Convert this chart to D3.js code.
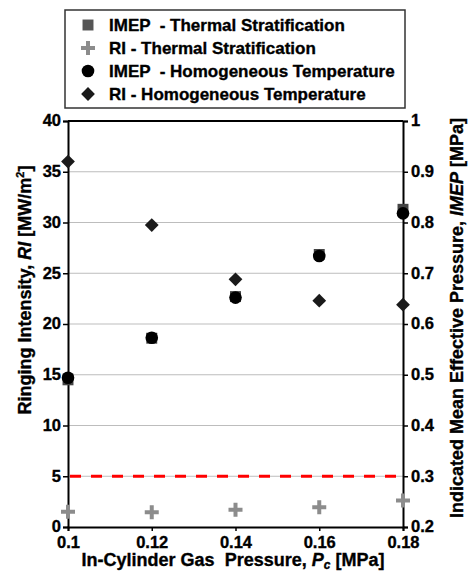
<!DOCTYPE html>
<html>
<head>
<meta charset="utf-8">
<script src="https://cdn.jsdelivr.net/npm/d3@7"></script>
<style>
  body { margin: 0; background: #fff; }
  svg text { font-family: "Liberation Sans", Arial, sans-serif !important; font-weight: 700 !important;
             fill: #000; stroke: #000; stroke-width: 0.35px; }
</style>
</head>
<body>
<div id="chart"></div>
<script>
// data
const pressure = [0.1, 0.12, 0.14, 0.16, 0.18];          // MPa
const imepThermal = [0.49, 0.572, 0.654, 0.737, 0.826];   // MPa
const riThermal = [1.5, 1.45, 1.7, 1.95, 2.6];            // MW/m2
const imepHomog = [0.494, 0.573, 0.652, 0.734, 0.818];    // MPa
const riHomog = [36.0, 29.75, 24.4, 22.3, 21.9];          // MW/m2
const riLimit = 5;

const xTicks = [0.1, 0.12, 0.14, 0.16, 0.18];
const riTicks = [0, 5, 10, 15, 20, 25, 30, 35, 40];
const imepTicks = [0.2, 0.3, 0.4, 0.5, 0.6, 0.7, 0.8, 0.9, 1];

const legendLabels = [
  "IMEP  - Thermal Stratification",
  "RI - Thermal Stratification",
  "IMEP  - Homogeneous Temperature",
  "RI - Homogeneous Temperature"
];

var cfg = {
  width: 470,
  height: 573,
  margin: {top: 121, right: 67, bottom: 46, left: 68}
};

var scale = {
  x: d3.scaleLinear().domain([0.1, 0.18])
      .range([cfg.margin.left, cfg.width - cfg.margin.right]),
  ri: d3.scaleLinear().domain([0, 40])
      .range([cfg.height - cfg.margin.bottom, cfg.margin.top]),
  imep: d3.scaleLinear().domain([0.2, 1])
      .range([cfg.height - cfg.margin.bottom, cfg.margin.top])
};

const svg = d3.select("#chart").append("svg")
  .attr("width", cfg.width)
  .attr("height", cfg.height);

const x0 = cfg.margin.left, x1 = cfg.width - cfg.margin.right;
const y0 = cfg.height - cfg.margin.bottom, y1 = cfg.margin.top;

// grid lines
svg.append("g").selectAll("line")
  .data(riTicks.filter(d => d > 0 && d < 40))
  .enter().append("line")
  .attr("x1", x0).attr("x2", x1)
  .attr("y1", d => scale.ri(d)).attr("y2", d => scale.ri(d))
  .style("stroke", "#bdbdbd").style("stroke-width", 1);

// red limit line
svg.append("line")
  .attr("x1", x0 + 2).attr("x2", x1)
  .attr("y1", scale.ri(riLimit)).attr("y2", scale.ri(riLimit))
  .style("stroke", "#ff0000").style("stroke-width", 3)
  .style("stroke-dasharray", "11,10");

// top border
svg.append("line")
  .attr("x1", x0).attr("x2", x1).attr("y1", y1).attr("y2", y1)
  .style("stroke", "#000").style("stroke-width", 2);

function styleAxis(g){
  g.attr("font-family", null);
  g.select(".domain").style("stroke", "#000").style("stroke-width", 2);
  g.selectAll(".tick line").style("stroke", "#000").style("stroke-width", 1.5);
  g.selectAll("text").style("font-size", "16.5px");
}

// x axis
svg.append("g")
  .attr("transform", `translate(0,${y0})`)
  .call(d3.axisBottom(scale.x).tickValues(xTicks).tickSizeOuter(0).tickSize(4).tickFormat(d3.format("~g")))
  .call(styleAxis)
  .selectAll("text").attr("y", 9).attr("dy", "0.72em");

// left axis
svg.append("g")
  .attr("transform", `translate(${x0},0)`)
  .call(d3.axisLeft(scale.ri).tickValues(riTicks).tickSizeOuter(0).tickSize(5))
  .call(styleAxis)
  .selectAll("text").attr("x", -7).attr("dy", "0.3em");

// right axis
svg.append("g")
  .attr("transform", `translate(${x1},0)`)
  .call(d3.axisRight(scale.imep).tickValues(imepTicks).tickSizeOuter(0).tickSize(5).tickFormat(d3.format("~g")))
  .call(styleAxis)
  .selectAll("text").attr("x", 8).attr("dy", "0.3em");

// axis titles
let xt = svg.append("text")
  .attr("x", 233).attr("y", 566)
  .attr("text-anchor", "middle")
  .style("font-size", "18px")
  .style("white-space", "pre");
xt.append("tspan").text("In-Cylinder Gas  Pressure, ");
xt.append("tspan").style("font-style", "italic").text("P");
xt.append("tspan").attr("dy", 3).style("font-size", "12px").style("font-style", "italic").text("c");
xt.append("tspan").attr("dy", -3).text(" [MPa]");

let lt = svg.append("text")
  .attr("transform", `translate(31,${(y0 + y1) / 2 - 34}) rotate(-90)`)
  .attr("text-anchor", "middle")
  .style("font-size", "18px");
lt.append("tspan").text("Ringing Intensity, ");
lt.append("tspan").style("font-style", "italic").text("RI");
lt.append("tspan").text(" [MW/m");
lt.append("tspan").attr("dy", -7).style("font-size", "11px").text("2");
lt.append("tspan").attr("dy", 7).text("]");

let rt = svg.append("text")
  .attr("transform", `translate(463,${(y0 + y1) / 2 - 6}) rotate(-90)`)
  .attr("text-anchor", "middle")
  .style("font-size", "18px");
rt.append("tspan").text("Indicated Mean Effective Pressure, ");
rt.append("tspan").style("font-style", "italic").text("IMEP");
rt.append("tspan").text(" [MPa]");

// markers
const symSquare = d3.symbol().type(d3.symbolSquare).size(120);
const symCircle = d3.symbol().type(d3.symbolCircle).size(125);
const symDiamond = d3.symbol().type(d3.symbolSquare).size(95);
const plusPath = "M-2,-7H2V-2H7V2H2V7H-2V2H-7V-2H-2Z";

function drawSeries(values, yScale, path, color, rot){
  svg.append("g").selectAll("path")
    .data(values)
    .enter().append("path")
    .attr("d", path)
    .attr("transform", (d, i) => `translate(${scale.x(pressure[i])},${yScale(d)}) rotate(${rot})`)
    .style("fill", color);
}

drawSeries(imepThermal, scale.imep, symSquare(), "#444", 0);
drawSeries(riThermal, scale.ri, plusPath, "#8c8c8c", 0);
drawSeries(imepHomog, scale.imep, symCircle(), "#000", 0);
drawSeries(riHomog, scale.ri, symDiamond(), "#1a1a1a", 45);

// legend
const lg = svg.append("g");
lg.append("rect")
  .attr("x", 65).attr("y", 10).attr("width", 340).attr("height", 98)
  .style("fill", "#fff").style("stroke", "#333").style("stroke-width", 1.5);

const legendSym = [
  {path: symSquare(), color: "#555", rot: 0},
  {path: plusPath, color: "#8c8c8c", rot: 0},
  {path: symCircle(), color: "#000", rot: 0},
  {path: symDiamond(), color: "#1a1a1a", rot: 45}
];

legendLabels.forEach((label, i) => {
  let cy = 25 + i * 23;
  lg.append("path")
    .attr("d", legendSym[i].path)
    .attr("transform", `translate(88,${cy}) rotate(${legendSym[i].rot})`)
    .style("fill", legendSym[i].color);
  lg.append("text")
    .attr("x", 109).attr("y", cy + 6)
    .style("font-size", "17px")
    .style("white-space", "pre")
    .text(label);
});
</script>
</body>
</html>
